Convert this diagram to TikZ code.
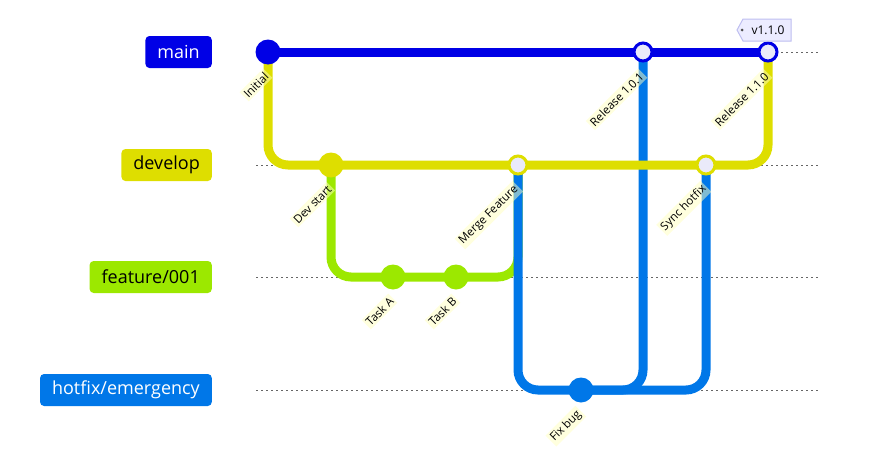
\documentclass[tikz,border=0pt]{standalone}
\usepackage{fontspec}
\setmainfont{Open Sans}
\usetikzlibrary{backgrounds}

\definecolor{mainc}{RGB}{0,0,230}
\definecolor{devc}{RGB}{222,222,0}
\definecolor{featc}{RGB}{156,232,0}
\definecolor{hotc}{RGB}{0,119,232}
\definecolor{mergefill}{RGB}{234,234,250}
\definecolor{tagfill}{RGB}{236,236,255}
\definecolor{tagline}{RGB}{190,190,240}
\definecolor{msgfill}{RGB}{255,255,190}

\tikzset{
    branch/.style={rounded corners=4pt, minimum height=32pt, inner xsep=12pt, anchor=east, font=\fontsize{18}{20}\selectfont},
    lane/.style={black!60, line width=1pt, dash pattern=on 2pt off 3pt},
    track/.style={line width=9pt, rounded corners=20pt},
    commit/.style={circle, minimum size=25pt, inner sep=0pt, fill=#1},
    mergec/.style={circle, minimum size=18pt, inner sep=0pt, draw=#1, line width=3pt, fill=mergefill},
    msg/.style={rotate=45, anchor=east, font=\fontsize{11.5}{12}\selectfont, fill=msgfill, fill opacity=0.5, text opacity=1, inner sep=2pt},
}

\begin{document}
\begin{tikzpicture}[x=1pt, y=-1pt]
    \useasboundingbox (0,0) rectangle (876,450);

    % branch names
    \node[branch, fill=mainc, text=white] (lmain) at (212,52) {main};
    \node[branch, fill=devc] (ldevelop) at (212,165) {develop};
    \node[branch, fill=featc] (lfeature) at (212,277) {feature/001};
    \node[branch, fill=hotc, text=white] (lhotfix) at (212,390) {hotfix/emergency};

    % commits
    \node[commit=mainc] (initial) at (268,52) {};
    \node[commit=devc] (devstart) at (331,165) {};
    \node[commit=featc] (taska) at (393,277) {};
    \node[commit=featc] (taskb) at (456,277) {};
    \node[mergec=devc] (mergefeat) at (518,165) {};
    \node[commit=hotc] (fixbug) at (581,390) {};
    \node[mergec=mainc] (rel101) at (643,52) {};
    \node[mergec=devc] (synchotfix) at (706,165) {};
    \node[mergec=mainc] (rel110) at (768,52) {};

    \begin{scope}[on background layer]
        \draw[lane] (256,52) -- (818,52);
        \draw[lane] (256,165) -- (818,165);
        \draw[lane] (256,277) -- (818,277);
        \draw[lane] (256,390) -- (818,390);

        \draw[track, featc] (devstart.center) |- (taska.center) -- (taskb.center) -| (mergefeat.center);
        \draw[track, hotc] (mergefeat.center) |- (fixbug.center) -| (rel101.center);
        \draw[track, hotc] (fixbug.center) -| (synchotfix.center);
        \draw[track, devc] (initial.center) |- (synchotfix.center) -| (rel110.center);
        \draw[track, mainc] (initial.center) -- (rel110.center);
    \end{scope}

    % commit messages
    \node[msg] at ([yshift=-21pt]initial.center) {Initial};
    \node[msg] at ([yshift=-21pt]devstart.center) {Dev start};
    \node[msg] at ([yshift=-21pt]taska.center) {Task A};
    \node[msg] at ([yshift=-21pt]taskb.center) {Task B};
    \node[msg] at ([yshift=-21pt]mergefeat.center) {Merge Feature};
    \node[msg] at ([yshift=-21pt]fixbug.center) {Fix bug};
    \node[msg] at ([yshift=-21pt]rel101.center) {Release 1.0.1};
    \node[msg] at ([yshift=-21pt]synchotfix.center) {Sync hotfix};
    \node[msg] at ([yshift=-21pt]rel110.center) {Release 1.1.0};

    % tag
    \draw[tagline, line width=1pt, fill=tagfill] (737,30) -- (743,19) -- (791,19) -- (791,41) -- (743,41) -- cycle;
    \fill[black!70] (742,30) circle (1.5);
    \node[font=\fontsize{12}{12}\selectfont, inner sep=0pt] (tag) at (768,30) {v1.1.0};
\end{tikzpicture}
\end{document}
